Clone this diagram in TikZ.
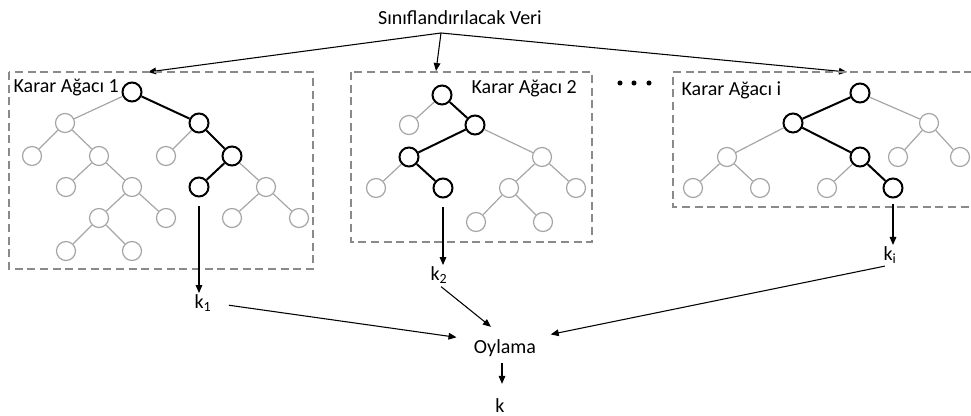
\documentclass[tikz,border=0pt]{standalone}
\usepackage{fontspec}
\setmainfont{Carlito}
\usetikzlibrary{arrows.meta,positioning}
\definecolor{lightedge}{HTML}{A6A6A6}
\definecolor{framegray}{HTML}{8A8A8A}

\tikzset{
  tnode/.style={circle, draw=lightedge, line width=0.9pt, minimum size=14.25pt, inner sep=0pt},
  tpath/.style={tnode, draw=black, line width=1.5pt},
  tedge/.style={draw=lightedge, line width=0.9pt},
  pedge/.style={draw=black, line width=1.5pt},
  treebox/.style={draw=framegray, line width=0.8pt, dash pattern=on 6pt off 3.5pt},
  flow/.style={-{Triangle[length=6pt,width=5pt]}, line width=0.8pt},
  lbl/.style={font=\fontsize{15}{18}\selectfont, inner sep=1pt}
}

\begin{document}
\begin{tikzpicture}[x=0.75pt, y=-0.75pt]
    \useasboundingbox (0,0) rectangle (971,416);

    % data on top, split into the trees
    \node[lbl, anchor=base] (data) at (460,25) {Sınıflandırılacak Veri};
    \coordinate (split) at (441,33);
    \coordinate (in1) at (148,72);
    \coordinate (in2) at (436,71);
    \coordinate (ini) at (847,72);
    \draw[flow] (split) -- (in1);
    \draw[flow] (split) -- (in2);
    \draw[flow] (split) -- (ini);

    % dashed frames round each tree (the last one runs off the right edge)
    \draw[treebox] (9,72) rectangle (313,269);
    \draw[treebox] (351,72) rectangle (592,242);
    \draw[treebox] (985,72) -- (673,72) -- (673,207) -- (985,207);
    \node[lbl, anchor=base west] (name1) at (12,93) {Karar Ağacı 1};
    \node[lbl, anchor=base west] (name2) at (470,94) {Karar Ağacı 2};
    \node[lbl, anchor=base west] (namei) at (680,96) {Karar Ağacı i};
    \fill (620,83) circle (1.9pt) (634,83) circle (1.9pt) (649,83) circle (1.9pt);

    % tree 1
    \node[tpath] (t1r) at (132,92) {};
    \node[tnode] (t1a) at (65,123) {};
    \node[tpath] (t1b) at (199,123) {};
    \node[tnode] (t1c) at (32,156) {};
    \node[tnode] (t1d) at (99,156) {};
    \node[tnode] (t1e) at (166,156) {};
    \node[tpath] (t1f) at (232,156) {};
    \node[tnode] (t1g) at (66,187) {};
    \node[tnode] (t1h) at (132,187) {};
    \node[tpath] (t1j) at (199,187) {};
    \node[tnode] (t1k) at (266,187) {};
    \node[tnode] (t1m) at (99,218) {};
    \node[tnode] (t1n) at (166,218) {};
    \node[tnode] (t1p) at (232,218) {};
    \node[tnode] (t1q) at (299,218) {};
    \node[tnode] (t1s) at (66,251) {};
    \node[tnode] (t1t) at (132,251) {};
    \draw[tedge] (t1r) -- (t1a) (t1a) -- (t1c) (t1a) -- (t1d) (t1b) -- (t1e)
                 (t1d) -- (t1g) (t1d) -- (t1h) (t1f) -- (t1k) (t1h) -- (t1m)
                 (t1h) -- (t1n) (t1k) -- (t1p) (t1k) -- (t1q) (t1m) -- (t1s)
                 (t1m) -- (t1t);
    \draw[pedge] (t1r) -- (t1b) -- (t1f) -- (t1j);

    % tree 2
    \node[tpath] (t2r) at (442,95) {};
    \node[tnode] (t2a) at (409,125) {};
    \node[tpath] (t2b) at (475,125) {};
    \node[tpath] (t2c) at (409,157) {};
    \node[tnode] (t2d) at (542,157) {};
    \node[tnode] (t2e) at (376,188) {};
    \node[tpath] (t2f) at (443,188) {};
    \node[tnode] (t2g) at (509,188) {};
    \node[tnode] (t2h) at (576,188) {};
    \node[tnode] (t2j) at (476,222) {};
    \node[tnode] (t2k) at (543,222) {};
    \draw[tedge] (t2r) -- (t2a) (t2b) -- (t2d) (t2c) -- (t2e) (t2d) -- (t2g)
                 (t2d) -- (t2h) (t2g) -- (t2j) (t2g) -- (t2k);
    \draw[pedge] (t2r) -- (t2b) -- (t2c) -- (t2f);

    % tree i
    \node[tpath] (tir) at (860,93) {};
    \node[tpath] (tia) at (793,123) {};
    \node[tnode] (tib) at (929,123) {};
    \node[tnode] (tic) at (727,157) {};
    \node[tpath] (tid) at (860,157) {};
    \node[tnode] (tie) at (898,157) {};
    \node[tnode] (tif) at (960,157) {};
    \node[tnode] (tig) at (693,188) {};
    \node[tnode] (tih) at (760,188) {};
    \node[tnode] (tij) at (827,188) {};
    \node[tpath] (tik) at (893,188) {};
    \draw[tedge] (tir) -- (tib) (tia) -- (tic) (tib) -- (tie) (tib) -- (tif)
                 (tic) -- (tig) (tic) -- (tih) (tid) -- (tij);
    \draw[pedge] (tir) -- (tia) -- (tid) -- (tik);

    % votes of the trees
    \node[lbl] (k1) at (203,303) {k\textsubscript{1}};
    \node[lbl] (k2) at (439,275) {k\textsubscript{2}};
    \node[lbl] (ki) at (890,255) {k\textsubscript{i}};
    \node[lbl, inner sep=3pt] (vote) at (505,348) {Oylama};
    \node[lbl, anchor=base, inner sep=0.5pt] (k) at (500,412) {k};

    \draw[flow, shorten <=6.5pt] (t1j) -- (t1j |- k1.north);
    \draw[flow, shorten <=6.5pt] (t2f) -- (t2f |- k2.north);
    \draw[flow, shorten <=4.5pt] (tik) -- (tik |- ki.north);
    \draw[flow, shorten <=12pt, shorten >=10pt] (k1.east) -- (vote.166);
    \draw[flow, shorten <=2pt, shorten >=10pt] (k2.south) -- (vote.106);
    \draw[flow, shorten <=4pt, shorten >=8pt] (ki.south) -- (vote.18);
    \draw[flow, shorten <=2pt, shorten >=10pt] ([xshift=-2.25pt]vote.south) -- ([xshift=-2.25pt]vote.south |- k.north);
\end{tikzpicture}
\end{document}
